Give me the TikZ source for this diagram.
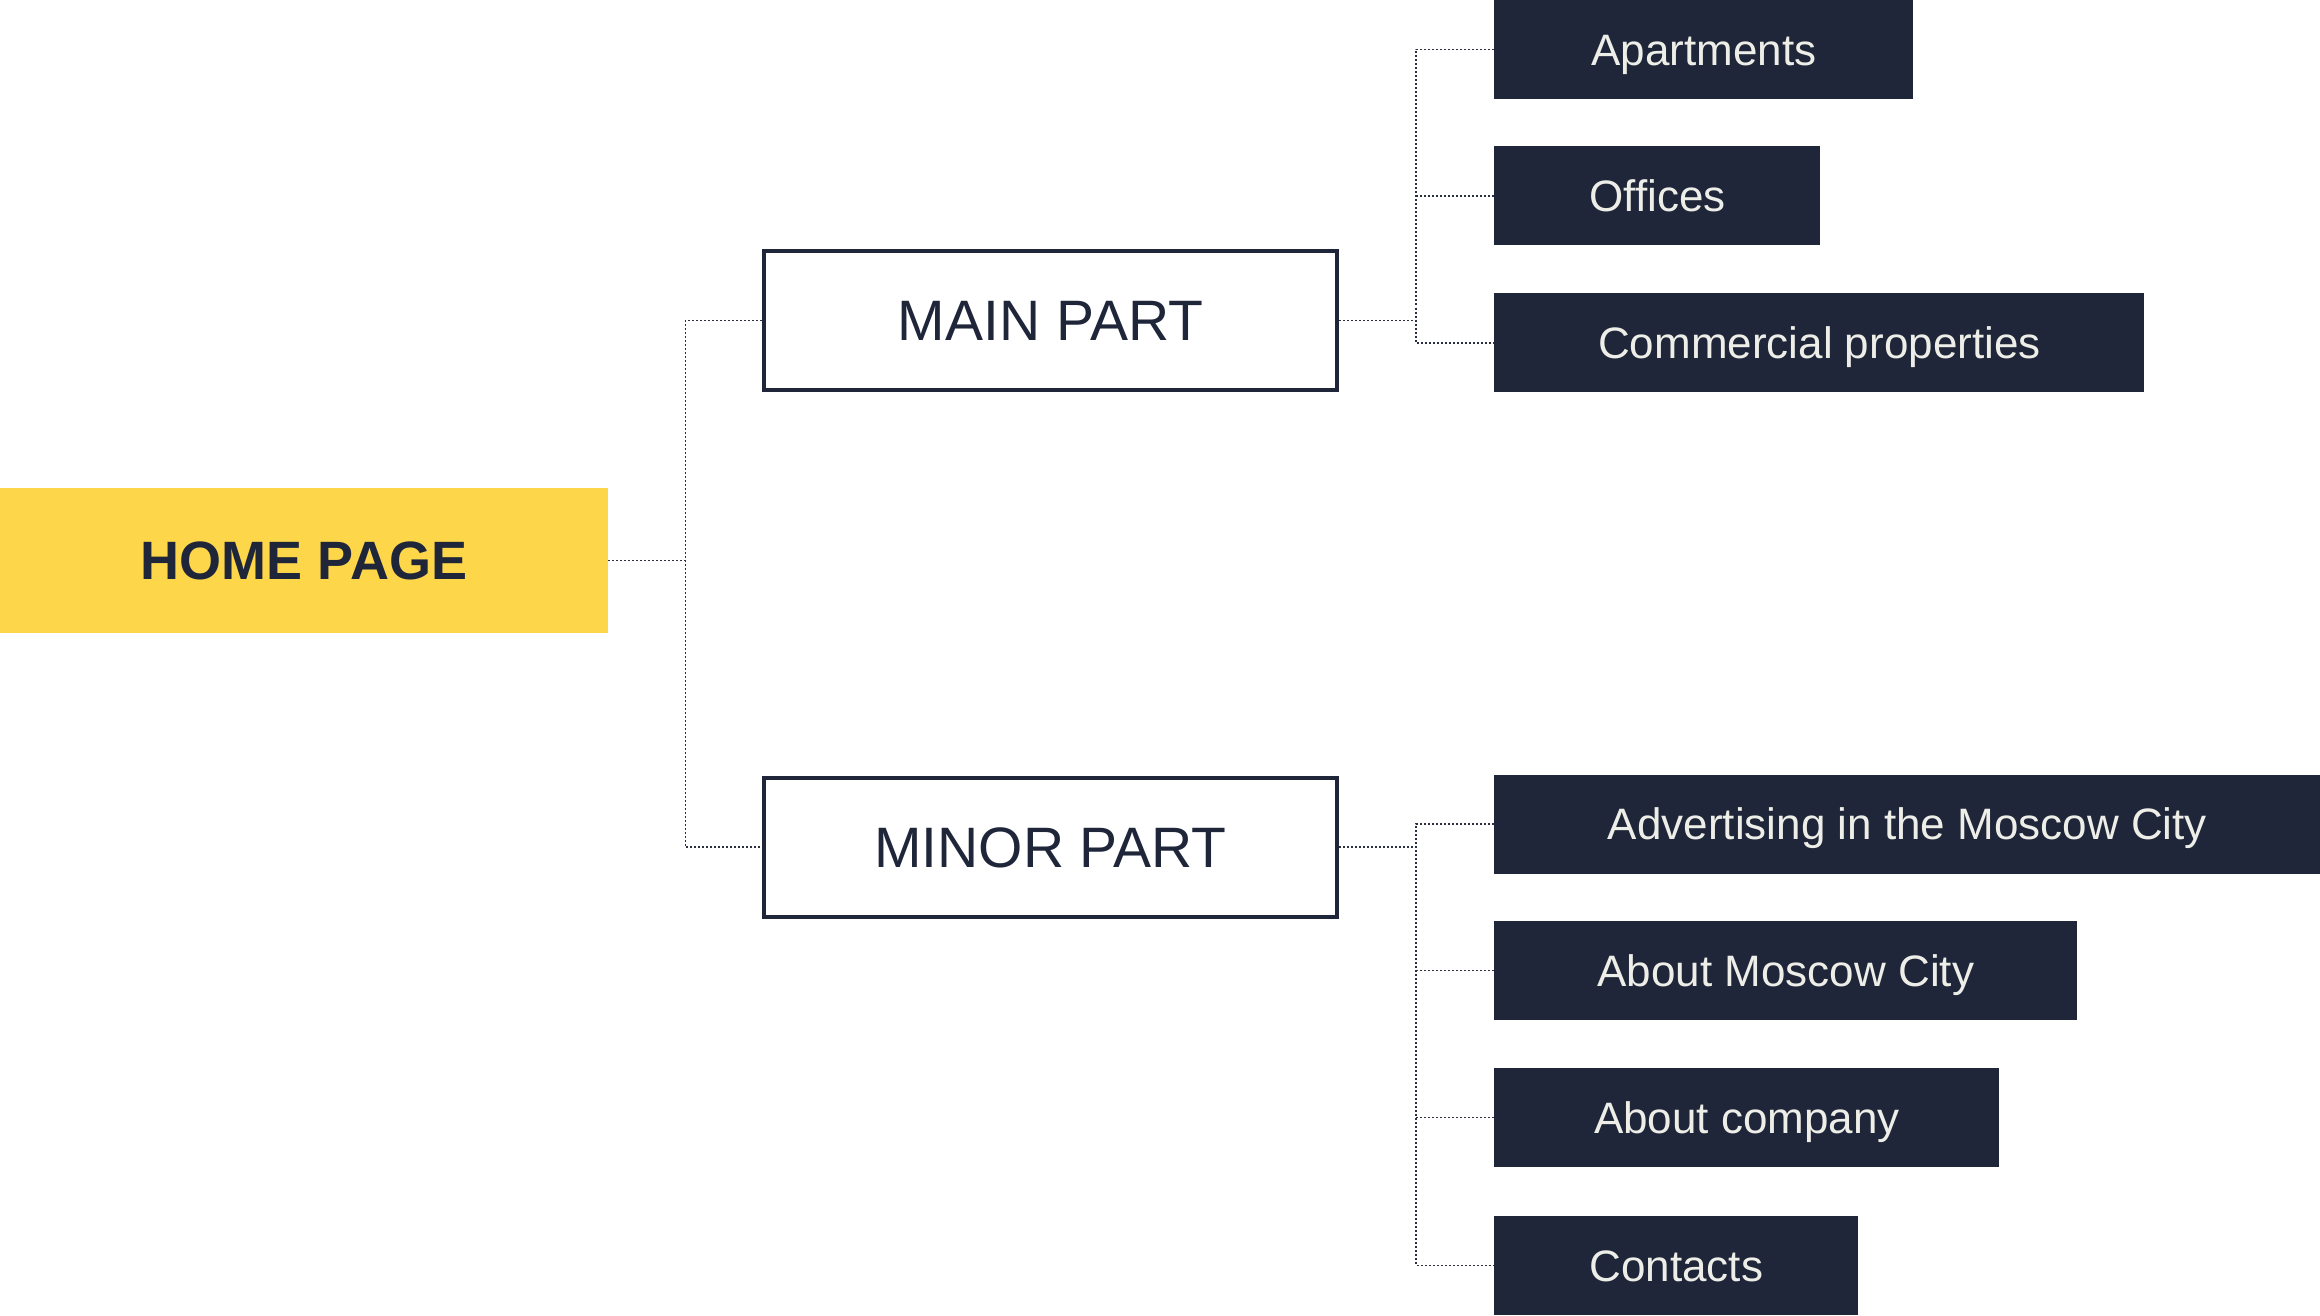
\documentclass[tikz,border=0pt]{standalone}
\usepackage{fontspec}
\setmainfont{Liberation Sans}
\usetikzlibrary{positioning}

\definecolor{navy}{HTML}{1F2639}
\definecolor{sun}{HTML}{FDD64A}
\definecolor{paper}{HTML}{EEEEE8}
\definecolor{wire}{HTML}{2A3040}

\tikzset{
  homebox/.style = {fill=sun, text=navy, font=\fontsize{27}{32}\selectfont\bfseries, minimum width=304pt, minimum height=72.5pt, inner sep=0pt, text height=19.3pt, text depth=0pt},
  partbox/.style = {draw=navy, line width=2pt, fill=white, text=navy, font=\fontsize{28.5}{33}\selectfont, minimum width=286.5pt, minimum height=69.5pt, inner sep=0pt, text height=20.4pt, text depth=0pt},
  pagebox/.style = {fill=navy, text=paper, font=\fontsize{22}{26}\selectfont, minimum height=49.5pt, inner sep=0pt, anchor=west, text height=15.8pt, text depth=0pt},
  link/.style = {wire, line width=0.6pt, dash pattern=on 1pt off 1pt}
}

\begin{document}
\begin{tikzpicture}
	\useasboundingbox (0pt, 0pt) rectangle (1160pt, -658pt);

	% home and the two parts
	\node[homebox] (home) at (152pt, -280.25pt) {HOME PAGE};
	\node[partbox] (main) at (525.25pt, -160.25pt) {MAIN PART};
	\node[partbox] (minor) at (525.25pt, -423.5pt) {MINOR PART};

	% pages of the main part
	\node[pagebox, minimum width=209.5pt] (apart) at (747pt, -24.75pt) {Apartments};
	\node[pagebox, minimum width=163pt] (offices) at (747pt, -98pt) {Offices};
	\node[pagebox, minimum width=325pt] (commerce) at (747pt, -171.5pt) {Commercial properties};

	% pages of the minor part
	\node[pagebox, minimum width=413pt] (advert) at (747pt, -412pt) {Advertising in the Moscow City};
	\node[pagebox, minimum width=291.5pt] (aboutcity) at (747pt, -485.25pt) {About Moscow City};
	\node[pagebox, minimum width=252.5pt] (aboutcomp) at (747pt, -558.75pt) {About company};
	\node[pagebox, minimum width=182pt] (contacts) at (747pt, -632.75pt) {Contacts};

	% connectors
	\draw[link] (home.east) -- ++(38.5pt, 0) coordinate (homejoin);
	\draw[link] (main.west) -| (homejoin) |- (minor.west);

	\draw[link] (main.east) -- ++(38.5pt, 0) coordinate (mainjoin);
	\draw[link] (apart.west) -| (mainjoin) |- (commerce.west);
	\draw[link] (offices.west) -- (offices.west -| mainjoin);

	\draw[link] (minor.east) -- ++(38.5pt, 0) coordinate (minorjoin);
	\draw[link] (advert.west) -| (minorjoin) |- (contacts.west);
	\draw[link] (aboutcity.west) -- (aboutcity.west -| minorjoin);
	\draw[link] (aboutcomp.west) -- (aboutcomp.west -| minorjoin);
\end{tikzpicture}
\end{document}
